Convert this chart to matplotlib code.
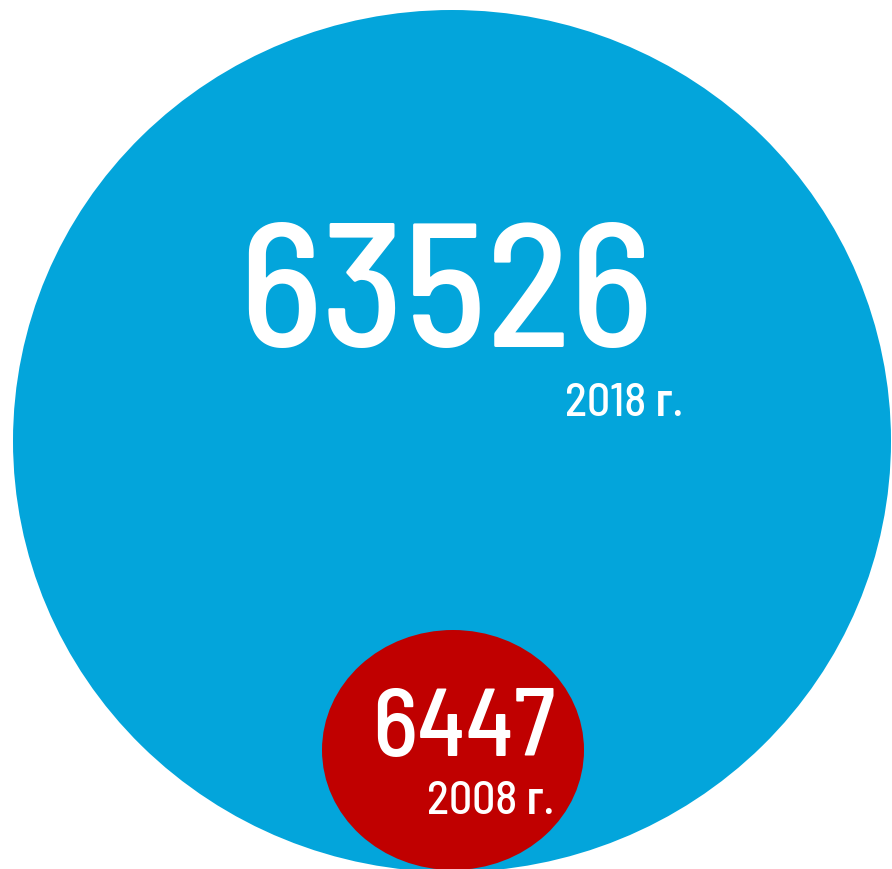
import matplotlib.pyplot as plt
from matplotlib.patches import Ellipse

# data
values = ["63526", "6447"]
years = ["2018 г.", "2008 г."]
colors = ["#03A5DB", "#C00000"]

FONT = ['Barlow Semi Condensed', 'Roboto Condensed', 'Liberation Sans Narrow',
        'Roboto', 'DejaVu Sans']

W, H = 892, 869
fig = plt.figure(figsize=(W / 100, H / 100), dpi=100)
ax = fig.add_axes([0, 0, 1, 1])
ax.set_xlim(0, W)
ax.set_ylim(H, 0)
ax.axis('off')

# circles: (center x, center y, width, height)
shapes = [(452, 441, 878, 862), (453, 750, 262, 240)]
for (cx, cy, w, h), c in zip(shapes, colors):
    ax.add_patch(Ellipse((cx, cy), w, h, facecolor=c, edgecolor='none'))

# big number / year label positions
num_pos = [(446, 347, 126), (464, 756, 69)]
year_pos = [(683, 416, 33), (554, 814, 33)]

for v, (x, y, fs) in zip(values, num_pos):
    ax.text(x, y, v, color='white', fontsize=fs, ha='center', va='baseline',
            family=FONT, weight='medium')
for yr, (x, y, fs) in zip(years, year_pos):
    ax.text(x, y, yr, color='white', fontsize=fs, ha='right', va='baseline',
            family=FONT, weight='medium')

fig.savefig('out.png', dpi=100)
